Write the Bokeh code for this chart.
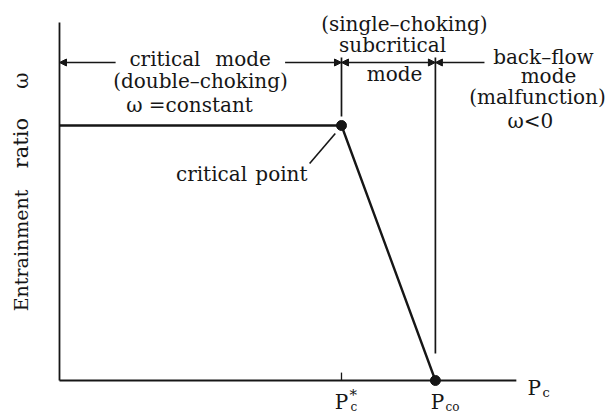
import math
from bokeh.plotting import figure
from bokeh.models import Range1d, Arrow, NormalHead
from bokeh.core.properties import value
from bokeh.embed import file_html
from bokeh.resources import INLINE

# ---- data (schematic, normalised: Pc / Pc*, omega / omega_critical) ----
pc_curve = [0.0, 1.0, 1.333]          # critical point at Pc*, zero at Pco
omega_curve = [1.0, 1.0, 0.0]
point_pc = [1.0, 1.333]
point_omega = [1.0, 0.0]
pc_star = 1.0
pc_o = 1.333
axis_x_end = 1.62
axis_y_end = 1.404
mode_line_omega = 1.247
mode_line_end = 1.507

INK = "#161616"
FONT = value("DejaVu Serif")

p = figure(width=605, height=416, output_backend="svg", toolbar_location=None,
           x_range=Range1d(-0.2092, 1.9362), y_range=Range1d(-0.1412, 1.4902),
           x_axis_type=None, y_axis_type=None, min_border=0,
           outline_line_color=None, background_fill_color="white",
           border_fill_color="white")
p.grid.visible = False


def txt(x, y, s, size=20, align="center", angle=0.0, baseline="middle"):
    p.text(x=[x], y=[y], text=[s], text_font=FONT, text_font_size=f"{size}px",
           text_align=align, text_baseline=baseline, angle=angle,
           text_color=INK)


# axes
p.line([0, 0], [0, axis_y_end], line_color=INK, line_width=1.8)
p.line([0, axis_x_end], [0, 0], line_color=INK, line_width=1.8)
# tick at Pc*
p.line([pc_star, pc_star], [0, 0.031], line_color=INK, line_width=1.3)

# main curve
p.line(pc_curve, omega_curve, line_color=INK, line_width=2.4)
p.scatter(point_pc, point_omega, size=10, color=INK)

# mode boundaries
p.line([pc_star, pc_star], [1.267, 1.035], line_color=INK, line_width=1.7)
p.line([pc_o, pc_o], [1.267, 0.106], line_color=INK, line_width=1.7)


def head():
    return NormalHead(size=7, line_color=INK, fill_color=INK, line_width=1)


y = mode_line_omega
p.add_layout(Arrow(x_start=0.199, y_start=y, x_end=0.0, y_end=y, end=head(),
                   line_color=INK, line_width=1.6))
p.add_layout(Arrow(x_start=0.80, y_start=y, x_end=pc_star, y_end=y, end=head(),
                   line_color=INK, line_width=1.6))
p.add_layout(Arrow(x_start=pc_star, y_start=y, x_end=pc_o, y_end=y, start=head(),
                   end=head(), line_color=INK, line_width=1.6))
p.add_layout(Arrow(x_start=mode_line_end, y_start=y, x_end=pc_o, y_end=y, end=head(),
                   line_color=INK, line_width=1.6))

# critical point leader
p.line([0.887, 0.978], [0.851, 0.969], line_color=INK, line_width=1.6)

# texts
txt(0.374, 1.259, "critical")
txt(0.651, 1.259, "mode")
txt(0.500, 1.176, "(double\u2013choking)")
txt(0.461, 1.082, "\u03c9 =constant")
txt(0.539, 0.808, "critical")
txt(0.787, 0.808, "point")
txt(1.223, 1.400, "(single\u2013choking)")
txt(1.181, 1.314, "subcritical")
txt(1.188, 1.200, "mode")
txt(1.716, 1.267, "back\u2013flow")
txt(1.734, 1.196, "mode")
txt(1.695, 1.110, "(malfunction)")
txt(1.670, 1.016, "\u03c9<0")

# y-axis title (words placed separately, rotated)
txt(-0.138, 0.510, "Entrainment", size=19, angle=math.pi / 2)
txt(-0.138, 0.931, "ratio", size=21, angle=math.pi / 2)
txt(-0.138, 1.176, "\u03c9", size=20, angle=math.pi / 2)

# axis labels
txt(1.660, -0.031, "P", size=20, align="left", baseline="alphabetic")
txt(1.713, -0.047, "c", size=13, align="left", baseline="alphabetic")
txt(1.000, -0.086, "P", size=20, align="center", baseline="alphabetic")
txt(1.028, -0.055, "*", size=15, align="left", baseline="alphabetic")
txt(1.032, -0.102, "c", size=12, align="left", baseline="alphabetic")
txt(1.340, -0.086, "P", size=20, align="center", baseline="alphabetic")
txt(1.369, -0.102, "co", size=12, align="left", baseline="alphabetic")

open("out.html", "w").write(file_html(p, INLINE))
